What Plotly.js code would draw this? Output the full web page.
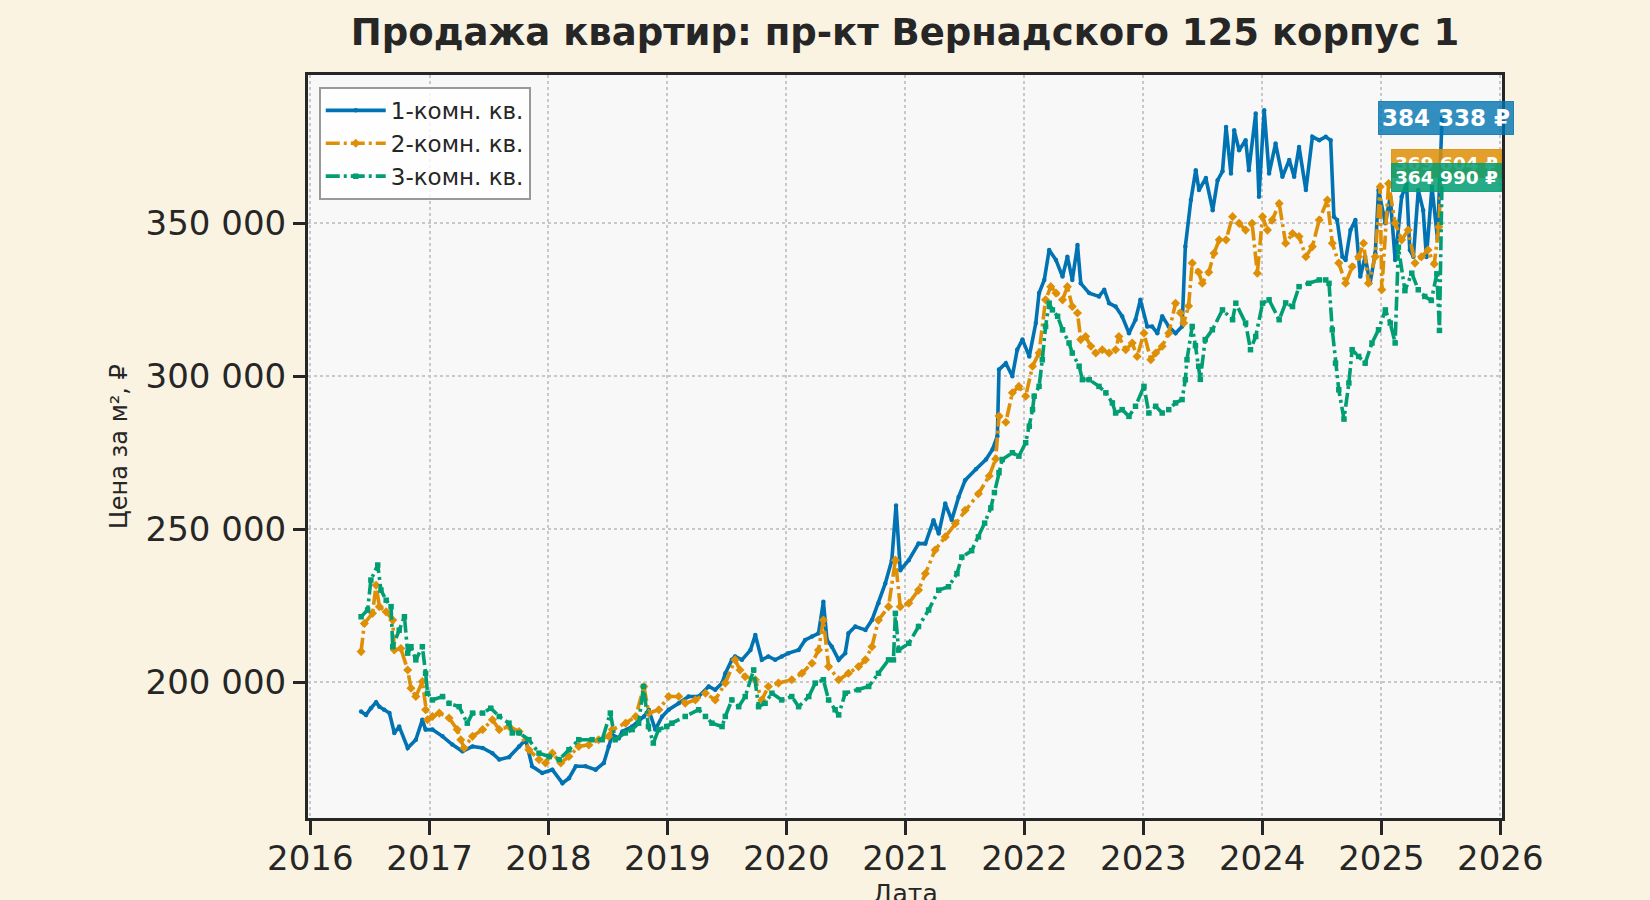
<!DOCTYPE html>
<html>
<head>
<meta charset="utf-8">
<script src="https://cdn.plot.ly/plotly-3.0.1.min.js"></script>
<style>
html,body{margin:0;padding:0;background:#faf3e2;}
#chart{width:1650px;height:900px;}
</style>
</head>
<body>
<div id="chart"></div>
<script>
const seriesNames = ["1-комн. кв.", "2-комн. кв.", "3-комн. кв."];

const datesOne = ["2016-06-05","2016-06-20","2016-07-05","2016-07-21","2016-07-31","2016-08-15","2016-08-31","2016-09-15","2016-09-30","2016-10-26","2016-11-20","2016-12-10","2016-12-20","2017-01-10","2017-02-10","2017-03-12","2017-04-12","2017-05-13","2017-06-13","2017-07-13","2017-08-03","2017-09-02","2017-10-03","2017-10-23","2017-11-12","2017-12-13","2018-01-13","2018-02-13","2018-03-05","2018-03-26","2018-04-25","2018-05-26","2018-06-20","2018-07-05","2018-07-16","2018-08-05","2018-08-16","2018-09-15","2018-10-21","2018-11-05","2018-11-25","2018-12-16","2019-01-05","2019-02-05","2019-03-07","2019-04-07","2019-05-08","2019-05-28","2019-06-18","2019-06-28","2019-07-18","2019-07-28","2019-08-18","2019-09-13","2019-09-28","2019-10-18","2019-11-07","2019-11-28","2019-12-18","2020-01-08","2020-02-08","2020-02-28","2020-03-20","2020-04-09","2020-04-24","2020-05-05","2020-05-20","2020-06-10","2020-06-30","2020-07-10","2020-07-31","2020-08-31","2020-09-20","2020-10-10","2020-10-31","2020-11-20","2020-12-03","2020-12-16","2021-01-11","2021-02-10","2021-03-03","2021-03-28","2021-04-13","2021-05-03","2021-05-23","2021-06-13","2021-07-03","2021-08-05","2021-09-05","2021-09-25","2021-10-10","2021-10-15","2021-11-05","2021-11-25","2021-12-10","2021-12-26","2022-01-16","2022-02-05","2022-02-15","2022-03-03","2022-03-18","2022-04-08","2022-04-28","2022-05-13","2022-05-28","2022-06-13","2022-06-23","2022-07-19","2022-08-18","2022-09-03","2022-09-18","2022-10-08","2022-10-28","2022-11-18","2022-12-08","2022-12-23","2023-01-13","2023-01-28","2023-02-13","2023-02-28","2023-03-20","2023-04-10","2023-04-30","2023-05-10","2023-05-27","2023-06-11","2023-06-21","2023-07-12","2023-08-02","2023-08-17","2023-09-01","2023-09-12","2023-09-27","2023-10-07","2023-10-22","2023-11-11","2023-11-21","2023-12-12","2023-12-22","2024-01-07","2024-01-22","2024-02-11","2024-03-03","2024-03-24","2024-04-08","2024-04-23","2024-05-14","2024-06-03","2024-06-24","2024-07-14","2024-07-29","2024-08-08","2024-08-18","2024-09-03","2024-09-13","2024-09-28","2024-10-13","2024-10-28","2024-11-12","2024-11-27","2024-12-13","2024-12-23","2025-01-13","2025-01-28","2025-02-12","2025-03-04","2025-03-19","2025-03-29","2025-04-09","2025-04-24","2025-05-09","2025-05-19","2025-06-05","2025-06-22","2025-07-06"];
const pricesOne = [190400,189300,191500,193400,192000,191000,189900,183400,185500,178500,181200,187700,184500,184500,182300,179600,177400,179000,178500,176800,174700,175500,179000,181200,172500,170300,171400,167000,168600,172500,172500,171400,173600,179000,182800,181700,183900,185500,188800,191000,184500,188800,191000,193100,195300,195300,198600,197500,199700,202900,207300,208400,207300,210500,215400,207300,208400,207300,208400,209500,210500,213800,214900,216000,226300,213800,211600,207300,209500,216000,218200,217100,220300,225800,232300,239900,257800,236600,239900,245300,245300,252900,248600,258400,253000,260500,266000,269600,272800,276100,280400,302200,304300,300000,308700,312000,306500,317400,327200,331500,341300,338000,332600,339100,331500,342900,330400,327200,326100,328300,323900,322800,319600,314100,318500,325000,316300,316300,314100,319600,316300,314100,316300,342400,357600,367400,360900,364800,354300,364100,367000,381500,366300,380400,373900,377200,367400,385900,358700,387000,366300,376100,365200,370700,365200,375000,360900,378300,377200,378300,377200,352200,351100,339100,338000,347800,351100,332600,339100,330400,340200,360900,350000,358700,338000,358700,363000,341300,339100,360900,354300,339000,362000,345000,384338];

const datesTwo = ["2016-06-05","2016-06-15","2016-07-10","2016-07-21","2016-07-31","2016-08-21","2016-09-10","2016-09-15","2016-10-05","2016-10-26","2016-11-05","2016-11-20","2016-12-10","2016-12-20","2016-12-26","2017-01-10","2017-01-31","2017-03-02","2017-03-27","2017-04-07","2017-04-17","2017-05-13","2017-06-13","2017-07-13","2017-08-03","2017-09-02","2017-10-03","2017-11-02","2017-12-03","2017-12-23","2018-01-13","2018-02-08","2018-03-05","2018-04-04","2018-05-05","2018-06-04","2018-07-05","2018-07-16","2018-08-26","2018-09-26","2018-10-21","2018-11-05","2018-12-06","2019-01-05","2019-02-05","2019-02-25","2019-03-28","2019-04-28","2019-05-28","2019-06-28","2019-07-28","2019-08-12","2019-08-28","2019-09-28","2019-10-18","2019-11-07","2019-12-08","2020-01-18","2020-02-18","2020-03-20","2020-04-09","2020-04-24","2020-05-10","2020-06-10","2020-07-10","2020-08-10","2020-08-31","2020-09-20","2020-10-10","2020-11-10","2020-12-01","2020-12-16","2021-01-11","2021-02-10","2021-03-03","2021-04-02","2021-05-03","2021-06-03","2021-07-03","2021-08-13","2021-09-15","2021-10-05","2021-10-15","2021-11-05","2021-11-25","2021-12-15","2022-01-05","2022-01-26","2022-02-15","2022-03-07","2022-03-23","2022-04-08","2022-04-28","2022-05-13","2022-05-28","2022-06-13","2022-06-23","2022-07-08","2022-07-24","2022-08-08","2022-08-28","2022-09-18","2022-10-08","2022-10-18","2022-11-08","2022-11-28","2022-12-13","2023-01-03","2023-01-24","2023-02-08","2023-02-28","2023-03-20","2023-04-10","2023-04-25","2023-05-05","2023-05-20","2023-05-31","2023-06-20","2023-07-01","2023-07-21","2023-08-06","2023-08-22","2023-09-12","2023-10-02","2023-10-22","2023-11-11","2023-12-01","2023-12-17","2024-01-02","2024-01-17","2024-02-01","2024-02-22","2024-03-13","2024-04-03","2024-04-23","2024-05-14","2024-06-03","2024-06-24","2024-07-19","2024-08-03","2024-08-23","2024-09-13","2024-10-03","2024-10-23","2024-11-07","2024-11-22","2024-12-13","2024-12-28","2025-01-02","2025-01-23","2025-02-12","2025-03-04","2025-03-24","2025-04-14","2025-05-04","2025-05-24","2025-06-12","2025-06-26","2025-07-06"];
const pricesTwo = [210000,219200,222500,231700,224700,223000,220300,210500,211000,204000,198000,195300,200200,191000,187700,188800,189900,188300,184500,181200,178500,182300,184500,187700,184500,185500,183900,177900,174700,173600,176800,173600,175700,179000,179500,181200,182300,184500,186600,188800,198600,189900,191000,195300,195300,193100,194200,196400,194200,199700,207300,204000,201800,200800,194200,198600,199700,200800,202900,206200,210500,220300,205100,200800,202900,205100,207300,211600,220300,224700,239900,224700,225800,230100,235500,243200,247500,251900,256200,261600,267400,273000,287000,285000,294600,296700,293500,303300,307600,325000,329300,327200,325000,329300,322800,320700,312000,313000,309800,307600,308700,307600,308700,313000,308700,310900,306500,314100,305400,307600,309800,314100,323900,320700,317400,323000,337000,334000,330400,334000,340200,344600,344600,352200,350000,347800,350000,333700,352200,347800,351100,356500,343500,346700,345700,339100,342400,351100,357600,343500,337000,330400,335800,339100,343500,330400,339100,362000,328300,363000,350000,344600,347800,337000,339100,341300,336700,348800,369604];

const datesThree = ["2016-06-05","2016-06-25","2016-07-05","2016-07-26","2016-08-05","2016-08-21","2016-09-05","2016-09-10","2016-09-30","2016-10-16","2016-10-26","2016-11-05","2016-11-20","2016-12-10","2016-12-20","2016-12-26","2017-01-10","2017-02-10","2017-03-02","2017-04-02","2017-04-27","2017-05-13","2017-06-13","2017-07-08","2017-08-03","2017-09-02","2017-09-12","2017-10-03","2017-11-02","2017-12-03","2018-01-03","2018-02-03","2018-03-05","2018-04-04","2018-05-15","2018-06-15","2018-07-10","2018-07-25","2018-08-25","2018-09-15","2018-10-05","2018-10-20","2018-11-04","2018-11-19","2018-12-05","2018-12-30","2019-01-15","2019-02-25","2019-04-07","2019-04-28","2019-05-18","2019-06-18","2019-06-28","2019-07-18","2019-08-08","2019-08-28","2019-09-23","2019-10-08","2019-10-28","2019-11-18","2019-12-18","2020-01-18","2020-02-08","2020-03-10","2020-03-30","2020-04-24","2020-05-10","2020-05-30","2020-06-10","2020-06-30","2020-08-10","2020-09-10","2020-10-10","2020-11-10","2020-11-25","2020-12-01","2020-12-11","2021-01-11","2021-02-10","2021-03-13","2021-04-13","2021-05-13","2021-06-08","2021-06-23","2021-07-23","2021-08-13","2021-09-01","2021-09-20","2021-10-01","2021-10-15","2021-10-25","2021-11-25","2021-12-15","2022-01-05","2022-01-16","2022-01-26","2022-01-31","2022-02-15","2022-02-25","2022-03-07","2022-03-18","2022-03-28","2022-04-13","2022-04-28","2022-05-18","2022-05-28","2022-06-18","2022-06-28","2022-07-19","2022-08-18","2022-09-08","2022-09-28","2022-10-08","2022-10-28","2022-11-18","2022-12-08","2023-01-03","2023-01-18","2023-02-08","2023-02-28","2023-03-20","2023-04-10","2023-04-30","2023-05-10","2023-05-15","2023-05-31","2023-06-10","2023-06-20","2023-06-25","2023-07-10","2023-08-01","2023-09-01","2023-10-02","2023-10-12","2023-11-11","2023-11-26","2023-12-12","2024-01-02","2024-01-22","2024-02-22","2024-03-13","2024-04-03","2024-04-23","2024-05-23","2024-06-24","2024-07-14","2024-07-24","2024-08-03","2024-08-13","2024-08-23","2024-09-08","2024-09-23","2024-10-03","2024-10-23","2024-11-12","2024-12-03","2024-12-23","2025-01-13","2025-01-28","2025-02-12","2025-02-22","2025-03-14","2025-04-04","2025-04-24","2025-05-14","2025-06-03","2025-06-20","2025-06-28","2025-07-06"];
const pricesThree = [221400,223600,233400,238300,230100,226800,224700,211600,217000,221400,209500,211600,207300,211600,202900,196400,194200,195300,193100,192000,186600,189900,189900,191500,188800,186600,183400,183400,181200,176800,175700,174700,177900,181200,181200,181200,189900,181200,183400,184500,186600,198600,185500,180100,184500,185500,186600,188800,191000,188800,186600,185500,188800,194200,192000,195300,204000,192000,193100,196400,194200,195300,192000,195300,199700,200800,194200,191000,189300,196400,197500,198600,202900,207300,207300,222500,210500,212700,218200,223600,230100,231200,235500,240900,243000,247500,252000,257000,262000,268500,272800,275000,273900,278300,283700,289100,293500,296700,305400,316300,323900,321700,319600,315200,310900,307600,303300,298900,298900,296700,294600,291300,288000,289100,286900,290200,296700,288000,290200,288000,289100,291300,292400,298900,305400,316300,310000,303300,299000,312000,315200,321700,318500,323900,317400,308700,313000,323900,325000,318500,324000,322800,329300,330400,331500,331500,330400,315200,304300,295600,286000,297800,308700,306500,304300,310900,315200,321700,317400,310900,342200,328000,333700,328300,326100,324800,333500,315000,364990];

const lastLabels = ["384 338 ₽", "369 604 ₽", "364 990 ₽"];
const yTickValues = [200000, 250000, 300000, 350000];
const xAxisTitle = "Дата";
const yAxisTitle = "Цена за м², ₽";
const chartTitle = "Продажа квартир: пр-кт Вернадского 125 корпус 1";

const colors = ["#0173b2", "#de8f05", "#029e73"];
const ink = "#262626";

const traces = [
  {x: datesOne, y: pricesOne, name: seriesNames[0], type: "scatter", mode: "lines+markers",
   line: {color: colors[0], width: 3.6, dash: "solid"},
   marker: {color: colors[0], size: 4.5, symbol: "circle"}},
  {x: datesTwo, y: pricesTwo, name: seriesNames[1], type: "scatter", mode: "lines+markers",
   line: {color: colors[1], width: 3.6, dash: "14px,4px,3px,4px"},
   marker: {color: colors[1], size: 7, symbol: "diamond"}},
  {x: datesThree, y: pricesThree, name: seriesNames[2], type: "scatter", mode: "lines+markers",
   line: {color: colors[2], width: 3.6, dash: "14px,4px,3px,4px"},
   marker: {color: colors[2], size: 5.5, symbol: "square"}}
];

const lastPoints = [
  [datesOne[datesOne.length-1], pricesOne[pricesOne.length-1]],
  [datesTwo[datesTwo.length-1], pricesTwo[pricesTwo.length-1]],
  [datesThree[datesThree.length-1], pricesThree[pricesThree.length-1]]
];
const labelBg = ["rgba(1,115,178,0.8)", "rgba(222,143,5,0.85)", "rgba(2,158,115,0.85)"];
const labelSize = [23, 18.5, 18.5];
const annotations = lastPoints.map((p, i) => ({
  x: p[0], y: p[1], xref: "x", yref: "y",
  text: "<b>" + lastLabels[i] + "</b>",
  showarrow: false, xanchor: "center", yanchor: "middle", xshift: 4,
  font: {family: "DejaVu Sans", size: labelSize[i], color: "#ffffff"},
  bgcolor: labelBg[i], bordercolor: labelBg[i], borderwidth: 1, borderpad: 3
}));
annotations.push({
  text: xAxisTitle, xref: "paper", yref: "paper", x: 0.5, y: -(893 - 818) / 743,
  xanchor: "center", yanchor: "middle", showarrow: false,
  font: {family: "DejaVu Sans", size: 25, color: ink}
});

const layout = {
  width: 1650, height: 900,
  paper_bgcolor: "#faf3e2",
  plot_bgcolor: "#f8f8f8",
  separators: ", ",
  margin: {l: 308, r: 148, t: 75, b: 82, autoexpand: false},
  font: {family: "DejaVu Sans", color: ink},
  title: {text: "<b>" + chartTitle + "</b>",
          font: {family: "DejaVu Sans", size: 37, color: ink},
          x: 0.5, xref: "paper", xanchor: "center", y: 1 - 32/900, yref: "container", yanchor: "middle"},
  xaxis: {
    type: "date",
    range: ["2015-12-25", "2026-01-06"],
    dtick: "M12", tick0: "2016-01-01", tickformat: "%Y",
    showline: true, linecolor: ink, linewidth: 3, mirror: true,
    ticks: "outside", ticklen: 14, tickwidth: 3, tickcolor: ink,
    ticklabelstandoff: -6,
    tickfont: {family: "DejaVu Sans", size: 34, color: ink},
    showgrid: true, gridcolor: "#c8c8c8", gridwidth: 2, griddash: "dot",
    zeroline: false, automargin: false
  },
  yaxis: {
    range: [155600, 398500],
    tickvals: yTickValues, tickformat: ",d",
    showline: true, linecolor: ink, linewidth: 3, mirror: true,
    ticks: "outside", ticklen: 12, tickwidth: 3, tickcolor: ink,
    tickfont: {family: "DejaVu Sans", size: 34, color: ink},
    showgrid: true, gridcolor: "#c8c8c8", gridwidth: 2, griddash: "dot",
    zeroline: false, automargin: false,
    title: {text: yAxisTitle, font: {family: "DejaVu Sans", size: 24, color: ink}, standoff: 12}
  },
  legend: {
    x: 0.009, y: 0.984, xanchor: "left", yanchor: "top",
    bgcolor: "rgba(255,255,255,0.8)", bordercolor: "#999999", borderwidth: 2,
    itemwidth: 60,
    font: {family: "DejaVu Sans", size: 23, color: ink}
  },
  annotations: annotations,
  showlegend: true
};

Plotly.newPlot("chart", traces, layout, {displayModeBar: false, staticPlot: true});
</script>
</body>
</html>
